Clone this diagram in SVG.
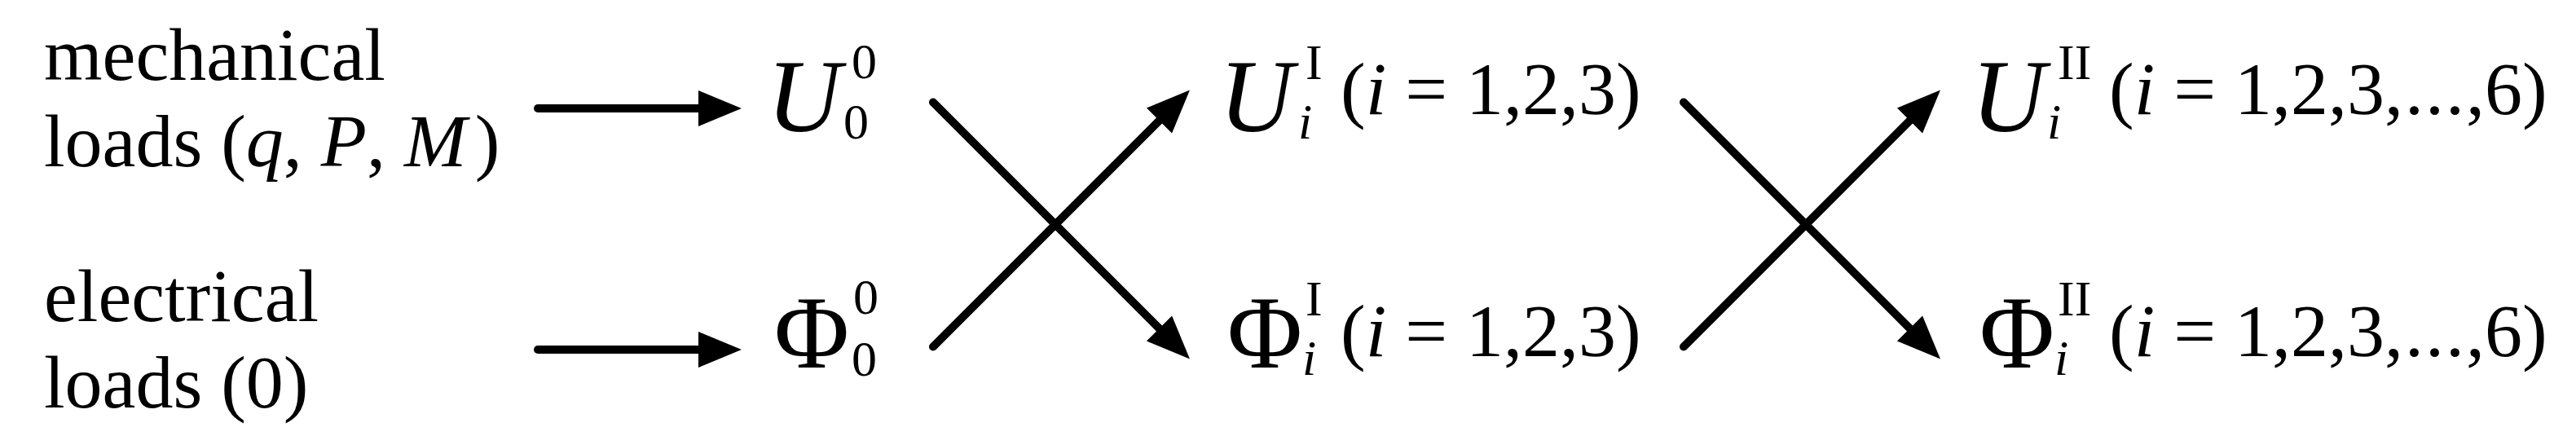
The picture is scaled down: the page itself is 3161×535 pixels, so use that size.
<svg xmlns="http://www.w3.org/2000/svg" width="3161" height="535" viewBox="0 0 3161 535">
<style>
.t{font-size:92px}
.m{font-size:126px}
.s{font-size:62px}
.it{font-style:italic}
.ln{stroke:#000;stroke-width:10;stroke-linecap:round;fill:none}
.hd{fill:#000;stroke:none}
</style>
<defs>
<polygon id="head" points="0,0 -53,-22 -53,22"/>
</defs>
<rect width="3161" height="535" fill="#fff"/>
<g font-family="'Liberation Serif', serif" fill="#000">
<g id="mech-loads">
<text class="t" x="54" y="98">mechanical</text>
<text class="t" x="54" y="204">loads (<tspan class="it">q</tspan>, <tspan class="it">P</tspan>, <tspan class="it">M</tspan><tspan dx="10">)</tspan></text>
</g>
<g id="elec-loads">
<text class="t" x="54" y="394">electrical</text>
<text class="t" x="54" y="500">loads (0)</text>
</g>
<g id="U0">
<text class="m it" x="941" y="161">U</text>
<text class="s" x="1045" y="96">0</text>
<text class="s" x="1035" y="170">0</text>
</g>
<g id="Phi0">
<text class="m" x="950" y="451">Φ</text>
<text class="s" x="1047" y="385">0</text>
<text class="s" x="1045" y="461">0</text>
</g>
<g id="UI">
<text class="m it" x="1496" y="161">U</text>
<text class="s" x="1602" y="97">I</text>
<text class="s it" x="1593" y="170">i</text>
<text class="t" x="1645" y="140">(<tspan class="it">i</tspan> = 1,2,3)</text>
</g>
<g id="PhiI">
<text class="m" x="1506" y="451">Φ</text>
<text class="s" x="1602" y="387">I</text>
<text class="s it" x="1598" y="460">i</text>
<text class="t" x="1645" y="437">(<tspan class="it">i</tspan> = 1,2,3)</text>
</g>
<g id="UII">
<text class="m it" x="2419" y="161">U</text>
<text class="s" x="2525" y="97">II</text>
<text class="s it" x="2512" y="170">i</text>
<text class="t" x="2588" y="140">(<tspan class="it">i</tspan> = 1,2,3,<tspan dx="2">.</tspan><tspan dx="2">.</tspan><tspan dx="2">.</tspan><tspan dx="2">,</tspan>6)</text>
</g>
<g id="PhiII">
<text class="m" x="2429" y="451">Φ</text>
<text class="s" x="2525" y="387">II</text>
<text class="s it" x="2521" y="460">i</text>
<text class="t" x="2588" y="437">(<tspan class="it">i</tspan> = 1,2,3,<tspan dx="2">.</tspan><tspan dx="2">.</tspan><tspan dx="2">.</tspan><tspan dx="2">,</tspan>6)</text>
</g>
</g>
<g id="connectors">
<line class="ln" x1="660" y1="133" x2="860" y2="133"/>
<use href="#head" class="hd" transform="translate(910,133)"/>
<line class="ln" x1="660" y1="429" x2="860" y2="429"/>
<use href="#head" class="hd" transform="translate(910,429)"/>
<line class="ln" x1="1145" y1="125.5" x2="1424" y2="404.5"/>
<use href="#head" class="hd" transform="translate(1460,440.5) rotate(45)"/>
<line class="ln" x1="1145" y1="425.5" x2="1424" y2="146.5"/>
<use href="#head" class="hd" transform="translate(1460,110.5) rotate(-45)"/>
<line class="ln" x1="2066" y1="125.5" x2="2345" y2="404.5"/>
<use href="#head" class="hd" transform="translate(2381,440.5) rotate(45)"/>
<line class="ln" x1="2066" y1="425.5" x2="2345" y2="146.5"/>
<use href="#head" class="hd" transform="translate(2381,110.5) rotate(-45)"/>
</g>
</svg>
